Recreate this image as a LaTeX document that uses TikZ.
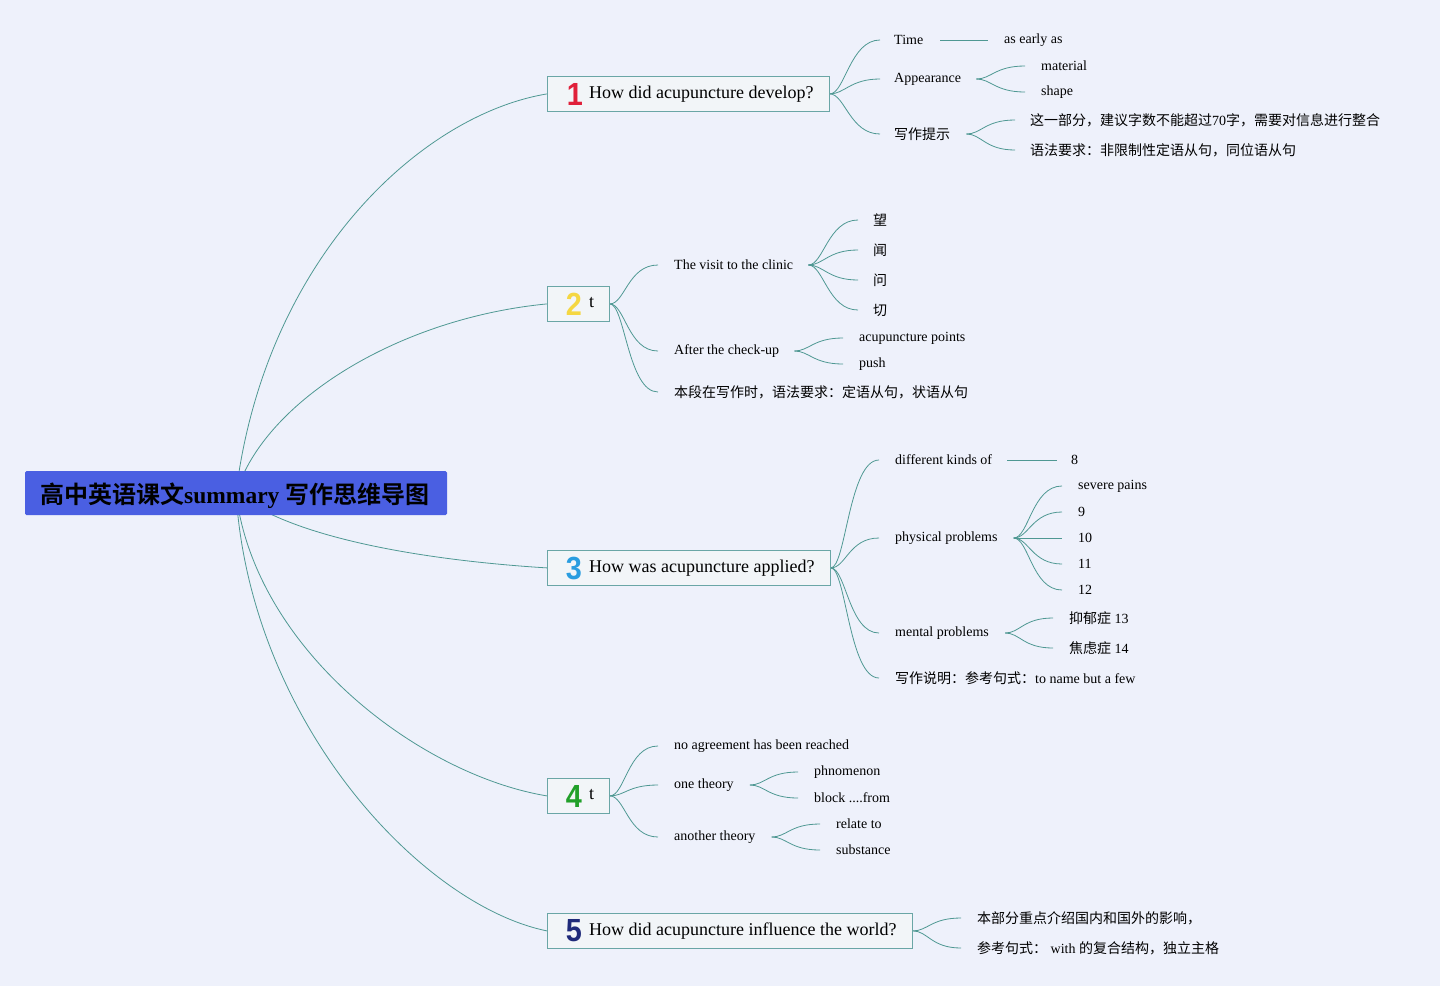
\documentclass[tikz,border=0pt]{standalone}
\usepackage{fontspec}
\setmainfont{Liberation Serif}
\newfontfamily\cjk{Noto Sans CJK SC}[BoldFont={Noto Sans CJK SC Bold}]
\newfontfamily\numfont{Liberation Sans}
\newcommand\zh[1]{{\cjk #1}}
\definecolor{bg}{HTML}{EEF1FB}
\definecolor{conn}{HTML}{4F9893}
\definecolor{boxline}{HTML}{6AA6A6}
\definecolor{boxfill}{HTML}{F2F5F8}
\definecolor{rootblue}{HTML}{4A5FE2}
\definecolor{nred}{HTML}{E0203A}
\definecolor{nyellow}{HTML}{F5D742}
\definecolor{nblue}{HTML}{2A9DE0}
\definecolor{ngreen}{HTML}{22A02A}
\definecolor{nnavy}{HTML}{1F2A7A}
\pgfdeclarelayer{bgfill}
\pgfdeclarelayer{edges}
\pgfsetlayers{bgfill,edges,main}
\tikzset{
  lbl/.style={anchor=west, inner sep=0pt, yshift=-1pt, font=\fontsize{14}{16}\selectfont},
  qtxt/.style={anchor=west, inner sep=0pt, yshift=-1pt, font=\fontsize{18}{20}\selectfont},
  topicbox/.style={draw=boxline, fill=boxfill, line width=0.8pt, inner sep=0pt, anchor=north west, minimum height=35},
  numicon/.style={inner sep=0pt, xscale=0.9, font=\numfont\bfseries\fontsize{32}{32}\selectfont},
  link/.style={draw=conn, line width=0.8pt},
  curv/.style={to path={.. controls +(15,0) and +(-30,0) .. (\tikztotarget)}}
}
\begin{document}
\begin{tikzpicture}[x=1pt,y=-1pt]
\begin{pgfonlayer}{bgfill}
\fill[bg] (0,0) rectangle (1440,986);
\end{pgfonlayer}
\useasboundingbox (0,0) rectangle (1440,986);

% root
\node[fill=rootblue, rounded corners=1.5pt, minimum width=422, minimum height=44, inner sep=0pt] (root) at (236,493) {};
\node[anchor=west, inner sep=0pt, font=\fontsize{24}{28}\selectfont\bfseries] (roottxt) at (40,496) {\zh{高中英语课文}{\fontsize{23.5}{28}\selectfont summary}\ \zh{写作思维导图}};

% topic boxes
\node[topicbox, minimum width=282] (t1) at (547,76) {};
\node[numicon, text=nred] (i1) at (575,94) {1};
\node[qtxt] (q1) at (589,93) {How did acupuncture develop?};

\node[topicbox, minimum width=62] (t2) at (547,286) {};
\node[numicon, text=nyellow] (i2) at (574,304) {2};
\node[qtxt] (q2) at (589,302) {t};

\node[topicbox, minimum width=283] (t3) at (547,550) {};
\node[numicon, text=nblue] (i3) at (574,568) {3};
\node[qtxt] (q3) at (589,567) {How was acupuncture applied?};

\node[topicbox, minimum width=62] (t4) at (547,778) {};
\node[numicon, text=ngreen] (i4) at (574,796) {4};
\node[qtxt] (q4) at (589,794) {t};

\node[topicbox, minimum width=365] (t5) at (547,913) {};
\node[numicon, text=nnavy] (i5) at (574,931) {5};
\node[qtxt] (q5) at (589,930) {How did acupuncture influence the world?};

% branch 1 labels
\node[lbl] (time) at (894,39) {Time};
\node[lbl] (early) at (1004,39) {as early as};
\node[lbl] (app) at (894,78) {Appearance};
\node[lbl] (mat) at (1041,65) {material};
\node[lbl] (shape) at (1041,91) {shape};
\node[lbl] (tips) at (894,133) {\zh{写作提示}};
\node[lbl] (tip1) at (1030,119) {\zh{这一部分，建议字数不能超过}70\zh{字，需要对信息进行整合}};
\node[lbl] (tip2) at (1030,149) {\zh{语法要求：非限制性定语从句，同位语从句}};

% branch 2 labels
\node[lbl] (visit) at (674,264) {The visit to the clinic};
\node[lbl] (check) at (674,350) {After the check-up};
\node[lbl] (note2) at (674,391) {\zh{本段在写作时，语法要求：定语从句，状语从句}};
\node[lbl] (wang) at (873,219) {\zh{望}};
\node[lbl] (wenA) at (873,249) {\zh{闻}};
\node[lbl] (wenB) at (873,279) {\zh{问}};
\node[lbl] (qie) at (873,309) {\zh{切}};
\node[lbl] (acu) at (859,337) {acupuncture points};
\node[lbl] (push) at (859,363) {push};

% branch 3 labels
\node[lbl] (diff) at (895,459) {different kinds of};
\node[lbl] (eight) at (1071,459) {8};
\node[lbl] (phys) at (895,537) {physical problems};
\node[lbl] (severe) at (1078,485) {severe pains};
\node[lbl] (n9) at (1078,511) {9};
\node[lbl] (n10) at (1078,537) {10};
\node[lbl] (n11) at (1078,563) {11};
\node[lbl] (n12) at (1078,589) {12};
\node[lbl] (mental) at (895,632) {mental problems};
\node[lbl] (yiyu) at (1069,617) {\zh{抑郁症} 13};
\node[lbl] (jiaolv) at (1069,647) {\zh{焦虑症} 14};
\node[lbl] (note3) at (895,677) {\zh{写作说明：参考句式：}to name but a few};

% branch 4 labels
\node[lbl] (noagree) at (674,745) {no agreement has been reached};
\node[lbl] (one) at (674,784) {one theory};
\node[lbl] (another) at (674,836) {another theory};
\node[lbl] (phn) at (814,771) {phnomenon};
\node[lbl] (block) at (814,797) {block ....from};
\node[lbl] (relate) at (836,823) {relate to};
\node[lbl] (subst) at (836,849) {substance};

% branch 5 labels
\node[lbl] (b5a) at (977,917) {\zh{本部分重点介绍国内和国外的影响，}};
\node[lbl] (b5b) at (977,947) {\zh{参考句式：} with \zh{的复合结构，独立主格}};

\begin{pgfonlayer}{edges}
% root edges
\draw[link] (root.center) .. controls (265,260) and (420,115) .. (t1.west);
\draw[link] (root.center) .. controls (265,400) and (400,318) .. (t2.west);
\draw[link] (root.center) .. controls (290,537) and (420,560) .. (t3.west);
\draw[link] (root.center) .. controls (255,650) and (420,775) .. (t4.west);
\draw[link] (root.center) .. controls (250,720) and (420,905) .. (t5.west);
% branch 1
\draw[link,curv] (t1.east) to ([xshift=-14]time.west);
\draw[link] ([xshift=17]time.east) -- ([xshift=-16]early.west);
\draw[link,curv] (t1.east) to ([xshift=-14]app.west);
\draw[link,curv] (t1.east) to ([xshift=-14]tips.west);
\draw[link,curv] ([xshift=15]app.east) to ([xshift=-16]mat.west);
\draw[link,curv] ([xshift=15]app.east) to ([xshift=-16]shape.west);
\draw[link,curv] ([xshift=16]tips.east) to ([xshift=-15]tip1.west);
\draw[link,curv] ([xshift=16]tips.east) to ([xshift=-15]tip2.west);
% branch 2
\draw[link,curv] (t2.east) to ([xshift=-16]visit.west);
\draw[link,curv] (t2.east) to ([xshift=-16]check.west);
\draw[link,curv] (t2.east) to ([xshift=-16]note2.west);
\draw[link,curv] ([xshift=15]visit.east) to ([xshift=-15]wang.west);
\draw[link,curv] ([xshift=15]visit.east) to ([xshift=-15]wenA.west);
\draw[link,curv] ([xshift=15]visit.east) to ([xshift=-15]wenB.west);
\draw[link,curv] ([xshift=15]visit.east) to ([xshift=-15]qie.west);
\draw[link,curv] ([xshift=15]check.east) to ([xshift=-16]acu.west);
\draw[link,curv] ([xshift=15]check.east) to ([xshift=-16]push.west);
% branch 3
\draw[link,curv] (t3.east) to ([xshift=-16]diff.west);
\draw[link] ([xshift=15]diff.east) -- ([xshift=-14]eight.west);
\draw[link,curv] (t3.east) to ([xshift=-16]phys.west);
\draw[link,curv] (t3.east) to ([xshift=-16]mental.west);
\draw[link,curv] (t3.east) to ([xshift=-16]note3.west);
\draw[link,curv] ([xshift=16]phys.east) to ([xshift=-16]severe.west);
\draw[link,curv] ([xshift=16]phys.east) to ([xshift=-16]n9.west);
\draw[link,curv] ([xshift=16]phys.east) to ([xshift=-16]n10.west);
\draw[link,curv] ([xshift=16]phys.east) to ([xshift=-16]n11.west);
\draw[link,curv] ([xshift=16]phys.east) to ([xshift=-16]n12.west);
\draw[link,curv] ([xshift=16]mental.east) to ([xshift=-16]yiyu.west);
\draw[link,curv] ([xshift=16]mental.east) to ([xshift=-16]jiaolv.west);
% branch 4
\draw[link,curv] (t4.east) to ([xshift=-16]noagree.west);
\draw[link,curv] (t4.east) to ([xshift=-16]one.west);
\draw[link,curv] (t4.east) to ([xshift=-16]another.west);
\draw[link,curv] ([xshift=16]one.east) to ([xshift=-16]phn.west);
\draw[link,curv] ([xshift=16]one.east) to ([xshift=-16]block.west);
\draw[link,curv] ([xshift=16]another.east) to ([xshift=-16]relate.west);
\draw[link,curv] ([xshift=16]another.east) to ([xshift=-16]subst.west);
% branch 5
\draw[link,curv] (t5.east) to ([xshift=-16]b5a.west);
\draw[link,curv] (t5.east) to ([xshift=-16]b5b.west);
\end{pgfonlayer}
\end{tikzpicture}
\end{document}
